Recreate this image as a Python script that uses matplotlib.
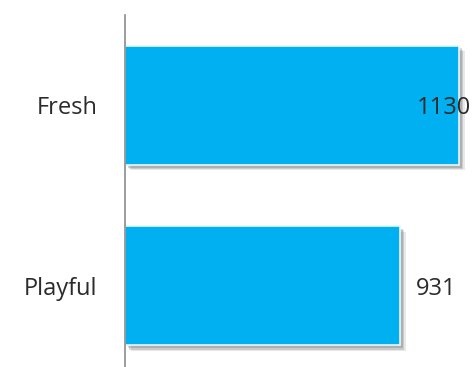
import matplotlib.pyplot as plt
import matplotlib.patheffects as pe

categories = ['Playful', 'Fresh']
values = [931, 1130]

plt.rcParams['font.family'] = ['Open Sans', 'DejaVu Sans']

fig = plt.figure(figsize=(4.76, 3.67), dpi=100)
ax = fig.add_axes([125 / 476, 0, 351 / 476, 352 / 367])

bars = ax.barh(categories, values, height=0.66, color='#00B0F0',
               edgecolor='#E8F7FD', linewidth=1.2)
# soft drop shadow below and right of each bar
shadow = [pe.SimplePatchShadow(offset=(o, -o), shadow_rgbFace='#444444', alpha=a)
          for o, a in [(4, 0.12), (3, 0.18), (2, 0.2)]]
for b in bars:
    b.set_path_effects(shadow + [pe.Normal()])

xmax = 1187
ax.set_xlim(0, xmax)
ax.set_ylim(-0.45, 1.5)

# value labels just past the bar end, kept inside the plot area
for i, v in enumerate(values):
    x = min(v + 54, xmax - 200)
    ax.text(x, i, str(v), va='center_baseline', ha='left', fontsize=17, color='#2b2b2b')

for s in ['top', 'right', 'bottom']:
    ax.spines[s].set_visible(False)
ax.spines['left'].set_color('#8c8c8c')
ax.spines['left'].set_linewidth(1.2)
ax.set_xticks([])
ax.tick_params(axis='y', length=0, pad=20, labelsize=17, labelcolor='#2b2b2b')

fig.savefig('out.png', dpi=100)
